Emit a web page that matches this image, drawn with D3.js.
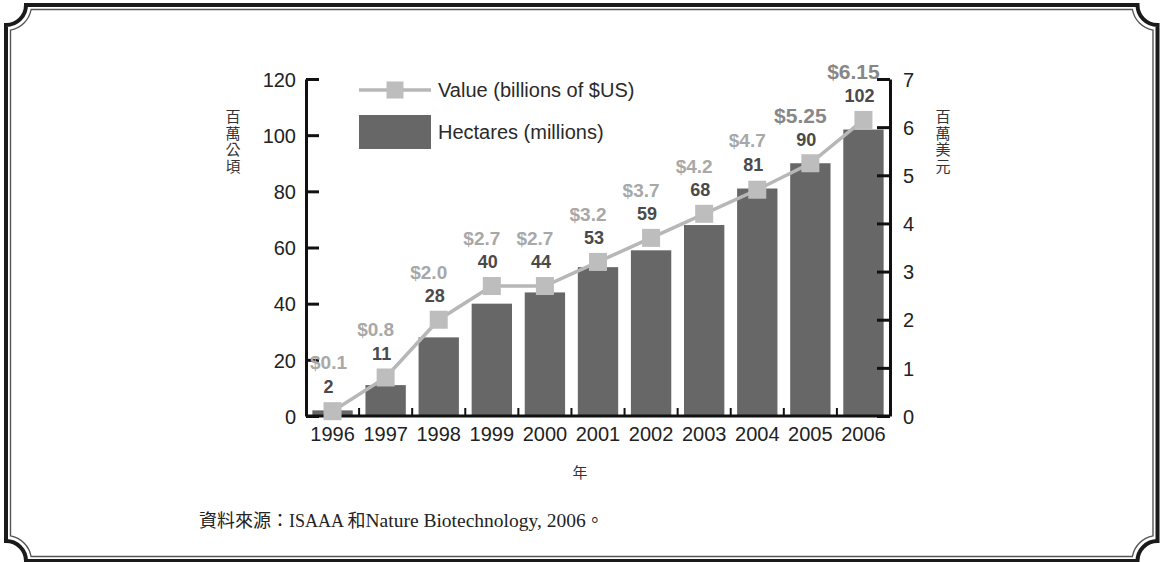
<!DOCTYPE html>
<html>
<head>
<meta charset="utf-8">
<script src="https://cdn.jsdelivr.net/npm/d3@7/dist/d3.min.js"></script>
<style>
  html, body { margin: 0; padding: 0; background: #fff; }
  svg { display: block; }
  .sans { font-family: "Liberation Sans", Arial, Helvetica, sans-serif; }
  .cjk { font-family: "Noto Sans CJK TC", "Noto Sans CJK SC", sans-serif; }
  .src { font-family: "Liberation Serif", "Times New Roman", "Noto Sans CJK TC", serif; }
</style>
</head>
<body>
<script>
// Biotech crop area (million hectares) and market value (billion US$), 1996-2006
const years = [1996, 1997, 1998, 1999, 2000, 2001, 2002, 2003, 2004, 2005, 2006];
const hectares = [2, 11, 28, 40, 44, 53, 59, 68, 81, 90, 102];
const valueUSD = [0.1, 0.8, 2.0, 2.7, 2.7, 3.2, 3.7, 4.2, 4.7, 5.25, 6.15];
const leftTicks = [0, 20, 40, 60, 80, 100, 120];
const rightTicks = [0, 1, 2, 3, 4, 5, 6, 7];
const legendLabels = ["Value (billions of $US)", "Hectares (millions)"];
const leftTitle = "百萬公頃";
const rightTitle = "百萬美元";
const xTitle = "年";
// source line, split into runs so each script can take its own size
const sourceRuns = [
  { t: "資料來源：", s: 18 },
  { t: "ISAAA ", s: 18 },
  { t: "和", s: 18 },
  { t: "Nature Biotechnology, 2006", s: 19.5 },
  { t: "。", s: 18 }
];

const W = 1162, H = 562;
const svg = d3.select("body").append("svg").attr("width", W).attr("height", H);

// ---- decorative frame with concave corners ----
function framePath(l, t, r, b, cx, cy, rad) {
  const p = d3.path();
  const dx = Math.sqrt(rad * rad - cy * cy), dy = Math.sqrt(rad * rad - cx * cx);
  const c = [[l - cx, t - cy], [r + cx, t - cy], [r + cx, b + cy], [l - cx, b + cy]];
  p.moveTo(c[0][0] + dx, t);
  p.lineTo(c[1][0] - dx, t);
  p.arc(c[1][0], c[1][1], rad, Math.PI - Math.asin(cy / rad), Math.PI / 2 + Math.asin(cx / rad), true);
  p.lineTo(r, c[2][1] - dy);
  p.arc(c[2][0], c[2][1], rad, -Math.PI / 2 - Math.asin(cx / rad), -Math.PI + Math.asin(cy / rad), true);
  p.lineTo(c[3][0] + dx, b);
  p.arc(c[3][0], c[3][1], rad, -Math.asin(cy / rad), -Math.PI / 2 + Math.asin(cx / rad), true);
  p.lineTo(l, c[0][1] + dy);
  p.arc(c[0][0], c[0][1], rad, Math.PI / 2 - Math.asin(cx / rad), Math.asin(cy / rad), true);
  p.closePath();
  return p.toString();
}
svg.append("path")
  .attr("d", framePath(6, 5, 1157.5, 561, 0, 0, 20))
  .attr("fill", "none").attr("stroke", "#1a1a1a").attr("stroke-width", 4);
svg.append("path")
  .attr("d", framePath(10.5, 9.5, 1153, 556.5, 4.5, 4.5, 25.5))
  .attr("fill", "none").attr("stroke", "#555").attr("stroke-width", 1.4);

// ---- scales ----
const x = d3.scaleBand().domain(years).range([306, 890]).paddingInner(0.24).paddingOuter(0.12);
const yL = d3.scaleLinear().domain([0, 120]).range([416, 79]);
const yR = d3.scaleLinear().domain([0, 7]).range([416, 79]);
const cx = d => x(d) + x.bandwidth() / 2;

const barColor = "#676767";
const lineColor = "#b7b7b7";
const markerColor = "#bdbdbd";

// ---- bars ----
svg.append("g").selectAll("rect").data(years).join("rect")
  .attr("x", d => x(d))
  .attr("y", (d, i) => yL(hectares[i]))
  .attr("width", x.bandwidth())
  .attr("height", (d, i) => yL(0) - yL(hectares[i]))
  .attr("fill", barColor);

// ---- axes ----
const axisStyle = g => {
  g.select(".domain").attr("stroke", "#111").attr("stroke-width", 3);
  g.selectAll(".tick line").attr("stroke", "#111").attr("stroke-width", 3);
  g.selectAll(".tick text").attr("fill", "#222").attr("font-size", 20)
    .attr("class", "sans");
};

svg.append("g").attr("transform", "translate(306,0)")
  .call(d3.axisLeft(yL).tickValues(leftTicks).tickFormat(d3.format("d"))
    .tickSizeInner(-13).tickSizeOuter(0).tickPadding(10))
  .call(axisStyle)
  .call(g => g.selectAll(".tick text").attr("dy", "0.36em"));

svg.append("g").attr("transform", "translate(890,0)")
  .call(d3.axisRight(yR).tickValues(rightTicks).tickFormat(d3.format("d"))
    .tickSizeInner(-13).tickSizeOuter(0).tickPadding(13))
  .call(axisStyle)
  .call(g => g.selectAll(".tick text").attr("dy", "0.36em"));

svg.append("g").attr("transform", "translate(0,416)")
  .call(d3.axisBottom(x).tickSize(0).tickPadding(11))
  .call(axisStyle)
  .call(g => g.select(".domain").attr("d", "M306,0H890"));

// small separators between categories along the baseline
svg.append("g").selectAll("line").data(years.slice(1)).join("line")
  .attr("x1", d => x(d) - x.step() * x.paddingInner() / 2)
  .attr("x2", d => x(d) - x.step() * x.paddingInner() / 2)
  .attr("y1", 416).attr("y2", 408)
  .attr("stroke", "#111").attr("stroke-width", 2);

// ---- value line with square markers ----
const line = d3.line().x((d, i) => cx(years[i])).y(d => yR(d));
svg.append("path").datum(valueUSD)
  .attr("d", line).attr("fill", "none")
  .attr("stroke", lineColor).attr("stroke-width", 3.5);

const ms = 18;
svg.append("g").selectAll("rect").data(valueUSD).join("rect")
  .attr("x", (d, i) => cx(years[i]) - ms / 2)
  .attr("y", d => yR(d) - ms / 2)
  .attr("width", ms).attr("height", ms)
  .attr("fill", markerColor);

// ---- data labels ----
const fmtUSD = v => "$" + (Math.round(v * 10) === v * 10 ? v.toFixed(1) : v.toFixed(2));
const labelTop = i => Math.min(yL(hectares[i]), yR(valueUSD[i])) - 24;

svg.append("g").selectAll("text").data(hectares).join("text")
  .attr("class", "sans")
  .attr("x", (d, i) => cx(years[i]) - 4)
  .attr("y", (d, i) => labelTop(i))
  .attr("dy", "0.36em")
  .attr("text-anchor", "middle")
  .attr("font-size", 18).attr("font-weight", "bold")
  .attr("fill", "#4a4a4a")
  .text(d => d);

svg.append("g").selectAll("text").data(valueUSD).join("text")
  .attr("class", "sans")
  .attr("y", (d, i) => labelTop(i) - 24)
  .attr("dy", "0.36em")
  .attr("text-anchor", "middle")
  .attr("font-size", (d, i) => i >= 9 ? 21 : 19)
  .attr("font-weight", "bold")
  .attr("fill", (d, i) => i >= 9 ? "#878787" : "#a8a8a8")
  .text(d => fmtUSD(d))
  .attr("x", function (d, i) {
    // shift left of the column centre, but keep clear of the left axis
    const half = this.getComputedTextLength() / 2;
    return Math.max(cx(years[i]) - 10, 306 + half + 4);
  });

// ---- legend ----
const lg = svg.append("g").attr("class", "sans");
lg.append("line").attr("x1", 359).attr("x2", 431).attr("y1", 90).attr("y2", 90)
  .attr("stroke", lineColor).attr("stroke-width", 3.5);
lg.append("rect").attr("x", 395 - 8.5).attr("y", 90 - 8.5).attr("width", 17).attr("height", 17)
  .attr("fill", markerColor);
lg.append("rect").attr("x", 359).attr("y", 115).attr("width", 72).attr("height", 34)
  .attr("fill", barColor);
lg.selectAll("text").data(legendLabels).join("text")
  .attr("x", 438).attr("y", (d, i) => 90 + i * 42)
  .attr("dy", "0.36em")
  .attr("font-size", 20).attr("fill", "#2a2a2a")
  .text(d => d);

// ---- axis titles (vertical CJK) ----
function vertical(text, xPos) {
  svg.append("text").attr("class", "cjk")
    .attr("x", xPos).attr("y", 109)
    .attr("writing-mode", "vertical-rl")
    .attr("letter-spacing", 1.5)
    .attr("font-size", 15).attr("fill", "#333")
    .text(text);
}
vertical(leftTitle, 233);
vertical(rightTitle, 943);

svg.append("text").attr("class", "cjk")
  .attr("x", 580).attr("y", 473).attr("dy", "0.36em")
  .attr("text-anchor", "middle").attr("font-size", 15).attr("fill", "#333")
  .text(xTitle);

// ---- source note ----
svg.append("text").attr("class", "src")
  .attr("x", 199).attr("y", 527).attr("fill", "#222")
  .selectAll("tspan").data(sourceRuns).join("tspan")
  .attr("font-size", d => d.s)
  .text(d => d.t);
</script>
</body>
</html>
